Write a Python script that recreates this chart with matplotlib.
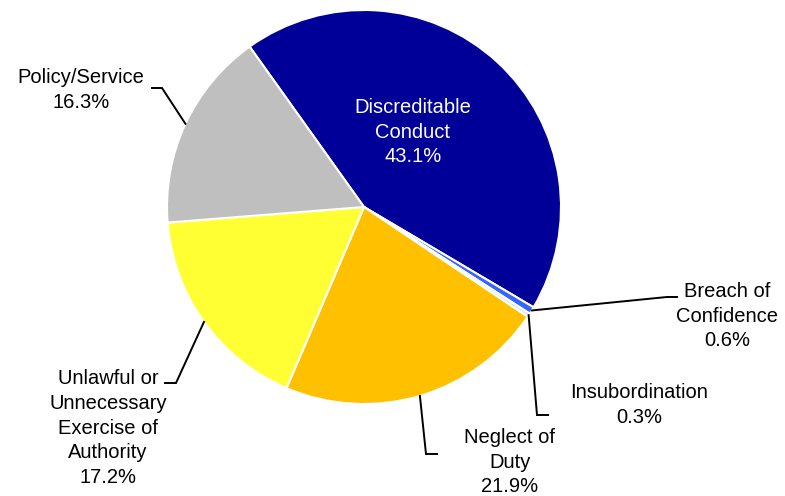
import numpy as np
import matplotlib.pyplot as plt

plt.rcParams['font.family'] = ['Liberation Sans', 'DejaVu Sans']

# ── data ─────────────────────────────────────────────────────────────────────
categories = ["Discreditable\nConduct", "Breach of\nConfidence", "Insubordination",
              "Neglect of\nDuty", "Unlawful or\nUnnecessary\nExercise of\nAuthority",
              "Policy/Service"]
shares = [43.1, 0.6, 0.3, 21.9, 17.2, 16.3]
colors = ["#000099", "#3366FF", "#DCE6F2", "#FFC000", "#FFFF33", "#BFBFBF"]

W, H = 785, 496
CX, CY, R = 364, 207, 197


def px(x, y):
    # pixel position (top-left origin) -> axes data coords
    return x, H - y


fig = plt.figure(figsize=(W / 100, H / 100), dpi=100)
ax = fig.add_axes([0, 0, 1, 1])
ax.set_aspect('equal')
ax.axis('off')

wedges, _ = ax.pie(shares, colors=colors, startangle=125.5, counterclock=False,
                   center=px(CX, CY), radius=R,
                   wedgeprops=dict(edgecolor='white', linewidth=1.5))
ax.set_xlim(0, W)
ax.set_ylim(0, H)


def edge_point(w):
    ang = np.deg2rad((w.theta1 + w.theta2) / 2)
    x0, y0 = w.center
    return x0 + w.r * np.cos(ang), y0 + w.r * np.sin(ang)


# label text positions and leader elbows (pixels)
label_pos = [(413, 132), (727, 316), (639, 405), (510, 462), (108, 428), (81, 90)]
elbows = [None,
          [(667, 297), (677, 297)],
          [(537, 415), (548, 415)],
          [(426, 454), (437, 454)],
          [(176, 383), (165, 383)],
          [(162, 88), (152, 88)]]

for i, (w, lab, val) in enumerate(zip(wedges, categories, shares)):
    tx, ty = px(*label_pos[i])
    color = 'white' if i == 0 else 'black'
    ax.text(tx, ty, f"{lab}\n{val}%", ha='center', va='center', fontsize=14.5,
            color=color, linespacing=1.37)
    if elbows[i] is not None:
        x0, y0 = edge_point(w)
        pts = [(x0, y0)] + [px(*p) for p in elbows[i]]
        xs, ys = zip(*pts)
        ax.plot(xs, ys, color='black', lw=1.4, solid_joinstyle='miter')

fig.savefig("out.png", dpi=100)
